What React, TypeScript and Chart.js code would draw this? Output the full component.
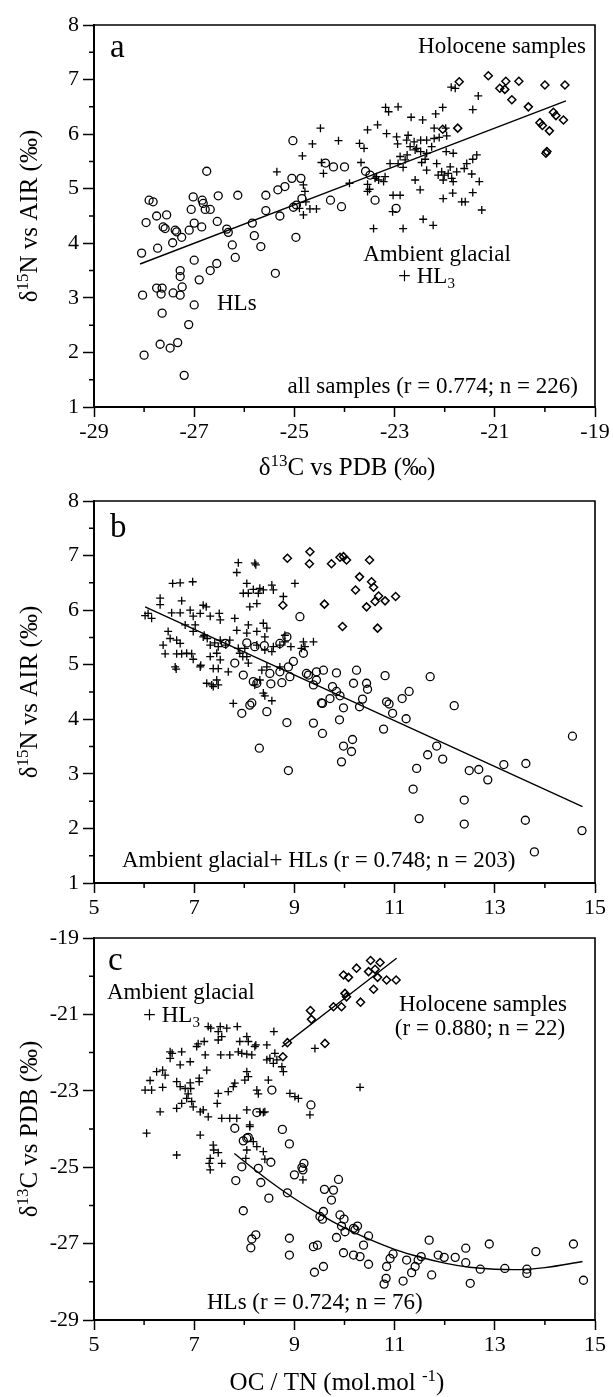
import React, { useEffect, useRef } from "react";
import { Chart, registerables } from "chart.js";
Chart.register(...registerables);

const W = 613;
const H = 1397;
const FONT = "'Liberation Serif', 'Times New Roman', serif";

// ---------------- Panel a : d15N vs d13C ----------------
const aHLs: [number, number][] = [
  [-27.96, 4.38], [-27.9, 4.79], [-27.82, 4.76], [-27.75, 4.5], [-27.55, 4.52], [-27.62, 4.3], [-27.58, 4.27],
  [-27.38, 4.24], [-27.35, 4.21], [-27.25, 4.11], [-27.1, 4.24], [-27.06, 4.62], [-27.02, 4.85], [-27.0, 4.37],
  [-26.85, 4.3], [-26.84, 4.79], [-26.82, 4.73], [-26.75, 5.32], [-26.78, 4.62], [-26.68, 4.62], [-26.52, 4.87],
  [-26.54, 4.4], [-26.35, 4.26], [-26.32, 4.2], [-26.13, 4.88], [-25.84, 4.37], [-25.8, 4.14], [-25.57, 4.88],
  [-25.57, 4.6], [-25.33, 4.98], [-25.29, 4.5], [-25.19, 5.04], [-25.03, 5.88], [-25.05, 5.19], [-25.02, 4.66],
  [-24.87, 5.19], [-24.85, 4.82], [-24.97, 4.11], [-28.05, 3.82], [-27.73, 3.91], [-28.03, 3.05], [-27.75, 3.18],
  [-27.64, 3.18], [-27.66, 3.07], [-27.64, 2.72], [-27.68, 2.15], [-28.0, 1.95], [-27.48, 2.08], [-27.33, 2.18],
  [-27.42, 3.09], [-27.24, 3.2], [-27.28, 3.39], [-27.28, 3.5], [-27.28, 3.05], [-27.2, 1.58], [-27.11, 2.51],
  [-27.0, 2.87], [-26.9, 3.33], [-27.0, 3.69], [-26.68, 3.5], [-26.55, 3.63], [-27.43, 4.01], [-26.24, 3.97],
  [-26.18, 3.74], [-25.67, 3.94], [-25.38, 3.45], [-24.96, 4.7], [-24.38, 5.47], [-24.22, 5.4], [-24.0, 5.4],
  [-23.58, 5.32], [-23.49, 5.25], [-23.39, 4.79], [-24.28, 4.79], [-24.06, 4.67], [-22.97, 4.64],
];
const aGlacial: [number, number][] = [
  [-21.87, 6.86], [-21.79, 6.84], [-21.33, 6.7], [-21.44, 6.45], [-23.18, 6.49], [-22.93, 6.5], [-23.12, 6.41],
  [-22.67, 6.31], [-22.44, 6.26], [-22.18, 6.37], [-22.04, 6.49], [-22.21, 6.11], [-21.98, 6.11], [-23.54, 6.08],
  [-23.34, 6.17], [-23.16, 6.01], [-22.96, 5.95], [-22.73, 5.98], [-22.94, 5.82], [-22.76, 5.89], [-22.61, 5.86],
  [-22.48, 5.89], [-22.36, 5.89], [-22.21, 5.92], [-22.11, 5.94], [-21.96, 5.97], [-24.48, 6.11], [-24.64, 5.82],
  [-24.12, 5.88], [-23.7, 5.83], [-23.61, 5.74], [-24.84, 5.6], [-24.46, 5.48], [-24.42, 5.28], [-23.9, 5.1],
  [-23.67, 5.48], [-23.54, 5.08], [-23.36, 5.22], [-23.19, 5.22], [-23.09, 5.46], [-22.93, 5.46], [-22.83, 5.39],
  [-22.75, 5.62], [-22.59, 5.71], [-22.48, 5.68], [-22.36, 5.65], [-21.97, 5.68], [-21.83, 5.65], [-22.59, 5.16],
  [-22.49, 4.98], [-22.36, 5.34], [-22.16, 5.46], [-22.06, 5.31], [-22.03, 5.16], [-21.89, 5.4], [-21.76, 5.31],
  [-21.83, 5.13], [-21.61, 5.37], [-21.56, 5.46], [-21.46, 5.27], [-21.44, 5.54], [-21.36, 5.62], [-21.31, 5.13],
  [-21.44, 4.93], [-21.66, 4.76], [-21.59, 4.76], [-21.26, 4.61], [-22.89, 4.88], [-23.03, 4.88], [-23.04, 4.58],
  [-22.03, 4.82], [-21.84, 4.92], [-23.5, 4.99], [-23.54, 4.95], [-23.39, 5.19], [-24.79, 4.95], [-24.77, 4.76],
  [-24.69, 4.63], [-24.56, 4.63], [-24.82, 4.52], [-24.9, 4.64], [-22.43, 4.44], [-22.23, 4.33], [-23.42, 4.27],
  [-22.83, 4.27], [-25.35, 5.31], [-24.82, 5.07], [-23.32, 5.16], [-23.22, 5.13], [-22.89, 5.59], [-22.79, 5.53],
  [-22.46, 5.48], [-22.39, 5.54], [-22.13, 5.25], [-22.01, 5.25], [-21.93, 5.28], [-21.86, 5.19], [-22.69, 5.77],
  [-22.56, 5.74], [-22.26, 5.77],
];
const aHolocene: [number, number][] = [
  [-21.71, 6.96], [-21.13, 7.07], [-20.9, 6.84], [-20.78, 6.97], [-20.8, 6.82], [-20.52, 6.97], [-20.66, 6.63],
  [-20.33, 6.5], [-20.0, 6.9], [-19.6, 6.9], [-19.83, 6.4], [-19.78, 6.34], [-19.63, 6.26], [-20.1, 6.21],
  [-20.05, 6.16], [-19.91, 6.06], [-19.96, 5.68], [-19.98, 5.65], [-22.04, 6.09], [-21.74, 6.11],
];
const aFitX = [-28.08, -19.58];
const aFitY = [3.62, 6.61];

// ---------------- Panel b : d15N vs OC/TN ----------------
const bHLs: [number, number][] = [
  [9.11, 5.88], [9.18, 5.21], [8.98, 5.06], [9.28, 4.81], [9.44, 4.87], [9.58, 4.9], [9.84, 4.85], [10.24, 4.9],
  [10.81, 4.8], [11.71, 4.78], [10.18, 4.66], [10.44, 4.66], [9.38, 4.63], [8.91, 4.78], [7.95, 4.11], [8.11, 4.26],
  [8.15, 4.3], [8.45, 4.14], [8.3, 3.47], [8.85, 3.94], [8.88, 3.06], [9.38, 3.93], [8.25, 4.66], [8.53, 4.65],
  [8.75, 4.67], [9.76, 4.6], [9.84, 4.51], [10.46, 4.55], [9.54, 4.3], [9.56, 4.29], [9.71, 4.38], [9.91, 4.43],
  [9.98, 4.21], [9.56, 3.74], [9.9, 3.99], [9.98, 3.51], [10.16, 3.63], [10.14, 3.41], [9.94, 3.22], [10.36, 4.37],
  [10.3, 4.23], [10.84, 4.32], [10.89, 4.28], [10.96, 4.11], [10.78, 3.82], [11.15, 4.38], [11.29, 4.51],
  [11.23, 4.01], [12.19, 4.25], [11.84, 3.51], [11.66, 3.35], [11.96, 3.27], [11.44, 3.1], [11.37, 2.72],
  [11.49, 2.18], [12.49, 3.06], [12.68, 3.08], [12.86, 2.89], [12.39, 2.52], [12.39, 2.08], [13.18, 3.17],
  [13.62, 3.19], [13.61, 2.15], [13.79, 1.57], [14.55, 3.69], [14.74, 1.96], [7.62, 5.39], [7.81, 5.03],
  [8.05, 5.4], [8.21, 5.33], [8.4, 5.35], [7.98, 4.81], [8.18, 4.69], [8.51, 4.84], [8.71, 4.87], [8.88, 4.96],
  [8.85, 5.51], [8.71, 5.39], [9.24, 4.84], [9.44, 4.72],
];
const bGlacial: [number, number][] = [
  [6.02, 5.9], [6.15, 5.85], [6.08, 5.94], [6.32, 6.22], [6.32, 6.1], [6.55, 5.95], [6.72, 5.95], [6.57, 6.49],
  [6.72, 6.5], [6.97, 6.52], [6.75, 6.17], [6.92, 6.0], [6.98, 5.89], [7.12, 5.94], [7.18, 6.09], [7.24, 6.06],
  [6.82, 5.73], [7.02, 5.73], [6.98, 5.61], [7.32, 5.89], [7.5, 5.94], [7.52, 5.82], [6.48, 5.61], [6.52, 5.48],
  [6.65, 5.45], [6.72, 5.39], [6.38, 5.36], [6.42, 5.2], [6.65, 5.2], [6.75, 5.2], [6.85, 5.21], [6.95, 5.2],
  [6.98, 5.1], [7.13, 4.99], [7.12, 4.96], [6.62, 4.96], [6.64, 4.92], [7.18, 5.51], [7.26, 5.48], [7.2, 5.54],
  [7.32, 5.36], [7.41, 5.4], [7.52, 5.45], [7.48, 5.33], [7.32, 5.15], [7.45, 5.21], [7.52, 5.09], [7.38, 4.93],
  [7.48, 4.93], [7.45, 4.72], [7.25, 4.66], [7.35, 4.63], [7.48, 4.63], [7.38, 4.6], [7.68, 4.87], [7.63, 5.36],
  [7.71, 5.45], [7.81, 5.85], [7.85, 5.63], [7.88, 5.3], [7.91, 5.21], [7.97, 5.15], [8.01, 5.3], [8.05, 5.15],
  [8.08, 5.03], [7.98, 6.31], [8.05, 6.49], [8.08, 6.31], [8.18, 6.38], [8.31, 6.4], [8.28, 6.31], [7.88, 6.87],
  [7.85, 6.69], [8.21, 6.86], [8.23, 6.83], [8.11, 6.06], [8.25, 6.12], [8.08, 5.73], [8.05, 5.58], [8.25, 5.61],
  [8.38, 5.76], [8.45, 5.67], [8.41, 5.51], [8.25, 5.36], [8.41, 5.27], [8.55, 5.24], [8.58, 5.33], [8.71, 5.36],
  [8.81, 5.54], [8.55, 6.46], [8.58, 6.37], [8.38, 6.37], [8.78, 6.25], [9.01, 6.49], [8.81, 5.42], [8.71, 4.96],
  [8.93, 5.33], [9.18, 5.42], [8.35, 4.9], [8.45, 4.96], [8.21, 4.63], [8.31, 4.72], [9.14, 5.3], [9.21, 5.33],
  [9.38, 5.42], [7.78, 4.29], [8.38, 4.48], [8.41, 4.43], [8.55, 4.34],
];
const bHolocene: [number, number][] = [
  [8.86, 6.95], [9.31, 7.07], [9.3, 6.85], [8.77, 6.09], [9.74, 6.85], [9.91, 6.97], [9.98, 6.98], [10.04, 6.92],
  [10.5, 6.92], [10.3, 6.61], [10.54, 6.52], [10.58, 6.42], [10.22, 6.37], [10.68, 6.26], [10.61, 6.16],
  [10.81, 6.17], [10.44, 6.06], [11.02, 6.25], [9.6, 6.11], [9.96, 5.7], [10.66, 5.67],
];
const bFitX = [6.02, 14.75];
const bFitY = [6.06, 2.4];

// ---------------- Panel c : d13C vs OC/TN ----------------
const cHLs: [number, number][] = [
  [8.55, -22.98], [9.33, -23.37], [8.25, -23.57], [7.81, -23.98], [8.76, -24.01], [8.05, -24.24], [8.08, -24.22],
  [7.98, -24.31], [8.9, -24.39], [7.95, -24.99], [7.83, -25.35], [8.28, -25.03], [8.33, -25.4], [8.53, -24.87],
  [8.86, -25.67], [8.49, -25.81], [7.98, -26.14], [8.23, -26.77], [8.15, -26.88], [8.13, -27.11], [8.9, -26.86],
  [8.9, -27.3], [9.0, -25.2], [9.17, -25.07], [9.19, -24.9], [9.15, -25.01], [9.38, -27.08], [9.46, -27.04],
  [9.4, -27.75], [9.51, -26.29], [9.88, -25.32], [9.6, -25.58], [9.78, -25.6], [9.74, -25.86], [9.58, -26.16],
  [9.56, -26.36], [9.91, -26.25], [9.99, -26.36], [9.94, -26.54], [9.84, -26.84], [10.18, -26.6], [10.26, -26.54],
  [10.21, -26.64], [10.01, -26.69], [10.48, -26.8], [10.38, -27.04], [9.98, -27.24], [10.18, -27.3],
  [10.31, -27.34], [10.48, -27.54], [9.58, -27.6], [10.97, -27.27], [10.91, -27.39], [10.84, -27.6],
  [10.83, -27.91], [10.79, -28.06], [11.24, -27.43], [11.17, -27.98], [11.34, -27.76], [11.41, -27.6],
  [11.47, -27.43], [11.53, -27.34], [11.69, -26.91], [11.74, -27.82], [11.87, -27.3], [11.99, -27.36],
  [12.21, -27.36], [12.42, -27.12], [12.42, -27.5], [12.51, -28.04], [12.71, -27.67], [12.89, -27.01],
  [13.2, -27.65], [13.64, -27.67], [13.64, -27.78], [13.82, -27.21], [14.57, -27.01], [14.77, -27.96],
];
const cGlacial: [number, number][] = [
  [6.02, -22.98], [6.15, -22.98], [6.37, -22.91], [6.12, -22.73], [6.25, -22.5], [6.37, -22.46], [6.42, -22.59],
  [6.52, -21.98], [6.56, -22.02], [6.52, -22.15], [6.75, -21.98], [6.72, -22.32], [6.92, -22.24], [6.65, -22.76],
  [6.72, -22.89], [6.92, -22.79], [6.93, -22.94], [6.82, -22.94], [7.05, -21.84], [7.08, -21.77], [7.2, -21.71],
  [7.22, -22.06], [7.25, -22.46], [7.1, -22.67], [7.1, -22.76], [7.28, -21.32], [7.33, -21.36], [7.48, -21.45],
  [7.52, -21.32], [7.55, -21.58], [7.48, -21.67], [7.65, -21.36], [7.86, -21.32], [8.05, -21.58], [8.08, -21.71],
  [8.23, -21.8], [8.45, -21.8], [8.21, -21.84], [7.53, -22.06], [7.71, -22.06], [7.88, -21.98], [7.95, -22.02],
  [8.05, -22.04], [8.15, -22.06], [7.91, -21.71], [8.59, -21.45], [8.45, -22.19], [8.51, -22.15], [8.58, -22.28],
  [8.65, -22.19], [8.75, -22.37], [8.78, -22.5], [8.61, -22.02], [8.05, -22.5], [8.08, -22.63], [8.01, -22.72],
  [7.81, -22.8], [7.78, -22.89], [7.68, -23.02], [7.48, -23.07], [7.46, -23.33], [7.18, -23.5], [7.12, -23.55],
  [7.28, -23.68], [7.55, -23.72], [7.71, -23.72], [7.85, -23.72], [8.05, -23.5], [8.11, -23.94], [8.31, -23.55],
  [8.38, -23.57], [8.41, -23.55], [6.85, -23.2], [6.75, -23.33], [6.65, -23.46], [6.95, -23.28], [6.88, -23.08],
  [6.98, -23.42], [6.32, -23.55], [8.25, -22.98], [8.28, -23.08], [8.48, -22.72], [8.91, -23.07], [9.01, -23.15],
  [9.41, -21.89], [9.31, -23.63], [10.31, -22.91], [9.08, -23.2], [6.05, -24.11], [6.65, -24.68], [7.12, -24.16],
  [7.38, -24.42], [7.39, -24.55], [7.48, -24.62], [7.55, -24.9], [7.32, -24.77], [7.3, -24.9], [7.32, -25.07],
  [8.11, -23.89], [8.05, -24.55], [8.18, -24.33], [8.25, -24.46], [8.38, -24.59], [8.41, -24.79], [8.03, -24.77],
  [9.17, -25.33],
];
const cHolocene: [number, number][] = [
  [10.52, -19.59], [10.71, -19.64], [10.24, -19.79], [10.48, -19.88], [10.61, -19.82], [10.66, -20.03],
  [10.84, -20.1], [11.03, -20.1], [9.98, -19.97], [10.08, -20.03], [10.58, -20.34], [10.01, -20.45],
  [10.04, -20.54], [9.78, -20.8], [9.94, -20.8], [10.32, -20.68], [9.32, -20.9], [9.34, -21.13], [9.61, -21.76],
  [8.86, -21.74], [8.77, -22.11],
];
const cHoloFitX = [8.75, 11.04];
const cHoloFitY = [-21.85, -19.53];
const cHLsFitX = [7.8, 8.5, 9.0, 9.5, 10.0, 10.5, 11.0, 11.5, 12.0, 12.5, 13.0, 13.5, 14.0, 14.75];
const cHLsFitY = [-24.64, -25.36, -25.82, -26.23, -26.59, -26.89, -27.15, -27.35, -27.51, -27.62, -27.67, -27.68, -27.63, -27.47];

// ---------------- drawing helpers ----------------
type Part = { t: string; sup?: boolean; sub?: boolean };
type TextItem = { parts: Part[]; x: number; y: number; size: number; align: "left" | "center" | "right"; rotate?: boolean };

function drawText(ctx: CanvasRenderingContext2D, it: TextItem) {
  const fontFor = (p: Part) => `${p.sup || p.sub ? Math.round(it.size * 0.66) : it.size}px ${FONT}`;
  const widths = it.parts.map((p) => {
    ctx.font = fontFor(p);
    return ctx.measureText(p.t).width;
  });
  const total = widths.reduce((a, b) => a + b, 0);
  ctx.save();
  ctx.translate(it.x, it.y);
  if (it.rotate) ctx.rotate(-Math.PI / 2);
  ctx.fillStyle = "#000";
  ctx.textBaseline = "alphabetic";
  ctx.textAlign = "left";
  let x0 = it.align === "left" ? 0 : it.align === "center" ? -total / 2 : -total;
  it.parts.forEach((p, i) => {
    ctx.font = fontFor(p);
    const dy = p.sup ? -it.size * 0.38 : p.sub ? it.size * 0.22 : 0;
    ctx.fillText(p.t, x0, dy);
    x0 += widths[i];
  });
  ctx.restore();
}

type Panel = {
  top: number;
  bottom: number;
  xMin: number;
  xMax: number;
  yMin: number;
  yMax: number;
  yStep: number;
  minorX: number[];
  minorY: number[];
  circles: [number, number][];
  pluses: [number, number][];
  diamonds: [number, number][];
  fits: { xs: number[]; ys: number[] }[];
  texts: TextItem[];
};

const LEFT = 94;
const RIGHT = 595;

function makeChart(canvas: HTMLCanvasElement, p: Panel) {
  const pts = (arr: [number, number][]) => arr.map(([x, y]) => ({ x, y }));
  const tickFont = { family: FONT, size: 22 };
  const overlay = {
    id: "overlay",
    afterDraw(chart: any) {
      const ctx = chart.ctx as CanvasRenderingContext2D;
      const a = chart.chartArea;
      const xs = chart.scales.x;
      const ys = chart.scales.y;
      ctx.save();
      ctx.strokeStyle = "#000";
      ctx.lineWidth = 1.6;
      ctx.beginPath();
      ctx.moveTo(a.left, a.top);
      ctx.lineTo(a.right, a.top);
      ctx.lineTo(a.right, a.bottom);
      ctx.stroke();
      ctx.lineWidth = 1.5;
      ctx.beginPath();
      p.minorX.forEach((v) => {
        const px = xs.getPixelForValue(v);
        ctx.moveTo(px, a.bottom);
        ctx.lineTo(px, a.bottom + 5);
      });
      p.minorY.forEach((v) => {
        const py = ys.getPixelForValue(v);
        ctx.moveTo(a.left, py);
        ctx.lineTo(a.left - 5, py);
      });
      ctx.stroke();
      ctx.restore();
      p.texts.forEach((t) => drawText(ctx, t));
    },
  };
  const fitSets = p.fits.map((f) => ({
    type: "line" as const,
    data: f.xs.map((x, i) => ({ x, y: f.ys[i] })),
    showLine: true,
    borderColor: "#000",
    borderWidth: 1.4,
    pointRadius: 0,
    tension: 0.35,
    fill: false,
  }));
  return new Chart(canvas, {
    type: "scatter",
    data: {
      datasets: [
        {
          data: pts(p.circles),
          pointStyle: "circle",
          pointRadius: 4,
          pointBorderWidth: 1.3,
          borderColor: "#000",
          backgroundColor: "rgba(0,0,0,0)",
        },
        {
          data: pts(p.pluses),
          pointStyle: "cross",
          pointRadius: 4,
          pointBorderWidth: 1.3,
          borderColor: "#000",
          backgroundColor: "rgba(0,0,0,0)",
        },
        {
          data: pts(p.diamonds),
          pointStyle: "rectRot",
          pointRadius: 4,
          pointBorderWidth: 1.5,
          borderColor: "#000",
          backgroundColor: "rgba(0,0,0,0)",
        },
        ...fitSets,
      ] as any,
    },
    options: {
      responsive: false,
      animation: false,
      devicePixelRatio: 1,
      events: [],
      layout: { padding: { top: p.top, left: 0, right: W - RIGHT, bottom: H - p.bottom - 40 } },
      plugins: { legend: { display: false }, tooltip: { enabled: false } },
      scales: {
        x: {
          type: "linear",
          min: p.xMin,
          max: p.xMax,
          ticks: { stepSize: 2, font: tickFont, color: "#000", padding: 2, autoSkip: false, maxRotation: 0 },
          grid: { display: true, drawOnChartArea: false, drawTicks: true, tickLength: 10, tickWidth: 1.5, color: "#000", tickColor: "#000" },
          border: { display: true, color: "#000", width: 2 },
          afterFit: (s: any) => {
            s.height = 40;
          },
        },
        y: {
          type: "linear",
          min: p.yMin,
          max: p.yMax,
          ticks: { stepSize: p.yStep, font: tickFont, color: "#000", padding: 4, autoSkip: false },
          grid: { display: true, drawOnChartArea: false, drawTicks: true, tickLength: 11, tickWidth: 1.5, color: "#000", tickColor: "#000" },
          border: { display: true, color: "#000", width: 2 },
          afterFit: (s: any) => {
            s.width = LEFT;
          },
        },
      },
    } as any,
    plugins: [overlay],
  });
}

const d15N: Part[] = [{ t: "δ" }, { t: "15", sup: true }, { t: "N vs AIR (‰)" }];
const d13C: Part[] = [{ t: "δ" }, { t: "13", sup: true }, { t: "C vs PDB (‰)" }];

const panels: Panel[] = [
  {
    top: 25,
    bottom: 407,
    xMin: -29,
    xMax: -19,
    yMin: 1,
    yMax: 8,
    yStep: 1,
    minorX: [-28, -26, -24, -22, -20],
    minorY: [1.5, 2.5, 3.5, 4.5, 5.5, 6.5, 7.5],
    circles: aHLs,
    pluses: aGlacial,
    diamonds: aHolocene,
    fits: [{ xs: aFitX, ys: aFitY }],
    texts: [
      { parts: [{ t: "a" }], x: 110, y: 57, size: 33, align: "left" },
      { parts: [{ t: "Holocene samples" }], x: 586, y: 53, size: 23, align: "right" },
      { parts: [{ t: "Ambient glacial" }], x: 437, y: 261, size: 23, align: "center" },
      { parts: [{ t: "+ HL" }, { t: "3", sub: true }], x: 398, y: 283, size: 23, align: "left" },
      { parts: [{ t: "HLs" }], x: 217, y: 310, size: 23, align: "left" },
      { parts: [{ t: "all samples (r = 0.774; n = 226)" }], x: 578, y: 393, size: 23, align: "right" },
      { parts: d13C, x: 347, y: 475, size: 25, align: "center" },
      { parts: d15N, x: 37, y: 216, size: 25, align: "center", rotate: true },
    ],
  },
  {
    top: 501,
    bottom: 883,
    xMin: 5,
    xMax: 15,
    yMin: 1,
    yMax: 8,
    yStep: 1,
    minorX: [6, 8, 10, 12, 14],
    minorY: [1.5, 2.5, 3.5, 4.5, 5.5, 6.5, 7.5],
    circles: bHLs,
    pluses: bGlacial,
    diamonds: bHolocene,
    fits: [{ xs: bFitX, ys: bFitY }],
    texts: [
      { parts: [{ t: "b" }], x: 110, y: 537, size: 33, align: "left" },
      { parts: [{ t: "Ambient glacial+ HLs (r = 0.748; n = 203)" }], x: 122, y: 867, size: 23, align: "left" },
      { parts: d15N, x: 37, y: 692, size: 25, align: "center", rotate: true },
    ],
  },
  {
    top: 938,
    bottom: 1320,
    xMin: 5,
    xMax: 15,
    yMin: -29,
    yMax: -19,
    yStep: 2,
    minorX: [6, 8, 10, 12, 14],
    minorY: [-28, -26, -24, -22, -20],
    circles: cHLs,
    pluses: cGlacial,
    diamonds: cHolocene,
    fits: [
      { xs: cHoloFitX, ys: cHoloFitY },
      { xs: cHLsFitX, ys: cHLsFitY },
    ],
    texts: [
      { parts: [{ t: "c" }], x: 108, y: 970, size: 33, align: "left" },
      { parts: [{ t: "Ambient glacial" }], x: 107, y: 999, size: 23, align: "left" },
      { parts: [{ t: "+ HL" }, { t: "3", sub: true }], x: 143, y: 1022, size: 23, align: "left" },
      { parts: [{ t: "Holocene samples" }], x: 483, y: 1011, size: 23, align: "center" },
      { parts: [{ t: "(r = 0.880; n = 22)" }], x: 480, y: 1035, size: 23, align: "center" },
      { parts: [{ t: "HLs (r = 0.724; n = 76)" }], x: 207, y: 1309, size: 23, align: "left" },
      { parts: [{ t: "OC / TN (mol.mol " }, { t: "-1", sup: true }, { t: ")" }], x: 337, y: 1390, size: 25, align: "center" },
      { parts: d13C, x: 37, y: 1129, size: 25, align: "center", rotate: true },
    ],
  },
];

export default function App() {
  const r0 = useRef<HTMLCanvasElement>(null);
  const r1 = useRef<HTMLCanvasElement>(null);
  const r2 = useRef<HTMLCanvasElement>(null);
  useEffect(() => {
    const refs = [r0, r1, r2];
    const charts = refs.map((r, i) => makeChart(r.current as HTMLCanvasElement, panels[i]));
    return () => charts.forEach((c) => c.destroy());
  }, []);
  const style: React.CSSProperties = { position: "absolute", left: 0, top: 0, width: W, height: H };
  return (
    <div style={{ position: "absolute", left: 0, top: 0, width: W, height: H, background: "#fff" }}>
      <canvas ref={r0} width={W} height={H} style={style} />
      <canvas ref={r1} width={W} height={H} style={style} />
      <canvas ref={r2} width={W} height={H} style={style} />
    </div>
  );
}
